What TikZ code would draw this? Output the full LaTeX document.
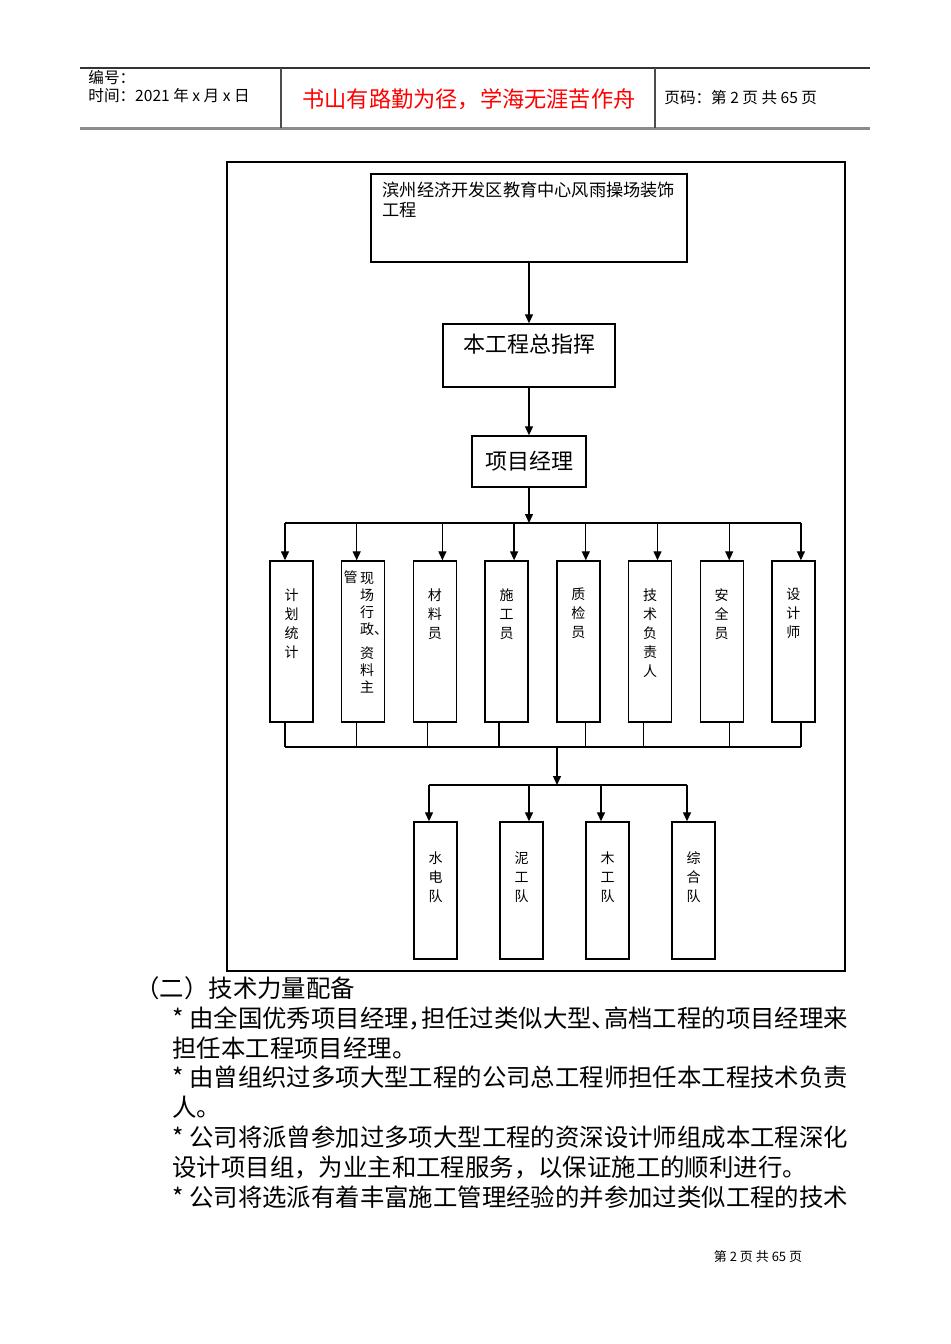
\documentclass[tikz,border=0pt]{standalone}
\usepackage{fontspec}
\setmainfont{Noto Sans CJK SC}
\usetikzlibrary{arrows.meta,positioning}

\begin{document}
\begin{tikzpicture}[x=0.5pt, y=-0.5pt, node distance=35.85pt,
  box/.style={rectangle, draw, line width=0.7pt, inner sep=0pt},
  post/.style={box, minimum width=21.5pt, minimum height=80.5pt},
  team/.style={box, minimum width=21.5pt, minimum height=68.5pt},
  vtext/.style={font=\fontsize{7}{9.5}\selectfont, align=center, inner sep=0pt, anchor=north},
  hdtext/.style={anchor=west, inner sep=0pt, font=\fontsize{7.8}{9}\selectfont},
  arrow/.style={-{Triangle[length=4.5pt, width=4pt]}, line width=0.65pt},
  link/.style={line width=0.65pt}]

  \useasboundingbox[fill=white] (0,0) rectangle (950,1344);

  % page header
  \draw[line width=0.6pt, black!80] (80,68) -- (870,68);
  \draw[line width=1.5pt, black!45] (80,128) -- (870,128);
  \draw[line width=0.6pt, black!70] (281,68) -- (281,128);
  \draw[line width=0.6pt, black!70] (655,68) -- (655,128);
  \node[hdtext] (hnum) at (88,78) {编号：};
  \node[hdtext] (hdate) at (88,96) {时间：2021 年 x 月 x 日};
  \node[font=\fontsize{11.1}{13}\selectfont, text=red] (motto) at (469,99) {书山有路勤为径，学海无涯苦作舟};
  \node[hdtext] (hpage) at (664,98) {页码：第 2 页 共 65 页};

  % organisation chart
  \node[box, line width=1pt, minimum width=309pt, minimum height=404.5pt] (frame) at (536,566.5) {};
  \node[box, minimum width=158pt, minimum height=44pt,
    label={[anchor=north west, align=left, inner sep=0pt, xshift=6pt, yshift=-4.2pt, font=\fontsize{8.6}{10}\selectfont]north west:{滨州经济开发区教育中心风雨操场装饰\\工程}}] (proj) at (529,218) {};
  \node[box, minimum width=86pt, minimum height=31.5pt,
    label={[anchor=north, inner sep=0pt, yshift=-5pt, font=\fontsize{11}{13}\selectfont]north:本工程总指挥}] (chief) at (529,355.5) {};
  \node[box, minimum width=57pt, minimum height=25.5pt, font=\fontsize{11}{13}\selectfont] (pm) at (529,461.5) {项目经理};

  \node[post, label={[vtext, yshift=-13.8pt]north:{计\\划\\统\\计}}] (plan) at (291.5,641.5) {};
  \node[post, right of=plan,
    label={[vtext, font=\fontsize{7}{8.5}\selectfont, xshift=2pt, yshift=-6pt]north:{现\\场\\行\\政\rlap{、}\\[3.5pt]资\\料\\主}},
    label={[vtext, xshift=-6.25pt, yshift=-5pt]north:管}] (admin) {};
  \node[post, right of=admin, label={[vtext, yshift=-13.8pt]north:{材\\料\\员}}] (mat) {};
  \node[post, right of=mat, label={[vtext, yshift=-13.8pt]north:{施\\工\\员}}] (cons) {};
  \node[post, right of=cons, label={[vtext, yshift=-13.8pt]north:{质\\检\\员}}] (qc) {};
  \node[post, right of=qc, label={[vtext, yshift=-13.8pt]north:{技\\术\\负\\责\\人}}] (tech) {};
  \node[post, right of=tech, label={[vtext, yshift=-13.8pt]north:{安\\全\\员}}] (safe) {};
  \node[post, right of=safe, label={[vtext, yshift=-13.8pt]north:{设\\计\\师}}] (dsgn) {};

  \node[team, label={[vtext, yshift=-15.1pt]north:{水\\电\\队}}] (water) at (435.5,890.5) {};
  \node[team, right of=water, node distance=43pt, label={[vtext, yshift=-15.1pt]north:{泥\\工\\队}}] (mud) {};
  \node[team, right of=mud, node distance=43pt, label={[vtext, yshift=-15.1pt]north:{木\\工\\队}}] (wood) {};
  \node[team, right of=wood, node distance=43pt, label={[vtext, yshift=-15.1pt]north:{综\\合\\队}}] (misc) {};

  \draw[arrow] (proj) -- (chief);
  \draw[arrow] (chief) -- (pm);

  % upper bus
  \coordinate (bustop) at (529,523);
  \coordinate (bustopw) at (285,523);
  \coordinate (bustope) at (801,523);
  \draw[arrow] (pm) -- (bustop);
  \draw[link] (bustopw) -- (bustope);
  \draw[arrow] ([xshift=-3.25pt]plan.north |- bustop) -- ([xshift=-3.25pt]plan.north);
  \draw[arrow] ([xshift=-3.25pt]admin.north |- bustop) -- ([xshift=-3.25pt]admin.north);
  \draw[arrow] ([xshift=3.75pt]mat.north |- bustop) -- ([xshift=3.75pt]mat.north);
  \draw[arrow] ([xshift=3.75pt]cons.north |- bustop) -- ([xshift=3.75pt]cons.north);
  \draw[arrow] ([xshift=3.75pt]qc.north |- bustop) -- ([xshift=3.75pt]qc.north);
  \draw[arrow] ([xshift=3.75pt]tech.north |- bustop) -- ([xshift=3.75pt]tech.north);
  \draw[arrow] ([xshift=3.75pt]safe.north |- bustop) -- ([xshift=3.75pt]safe.north);
  \draw[arrow] ([xshift=3.75pt]dsgn.north |- bustop) -- ([xshift=3.75pt]dsgn.north);

  % lower bus
  \coordinate (busbot) at (557,747);
  \coordinate (busbotw) at (285,747);
  \coordinate (busbote) at (801,747);
  \draw[link] ([xshift=-3.25pt]plan.south) -- ([xshift=-3.25pt]plan.south |- busbot);
  \draw[link] ([xshift=-3.25pt]admin.south) -- ([xshift=-3.25pt]admin.south |- busbot);
  \draw[link] ([xshift=-3.75pt]mat.south) -- ([xshift=-3.75pt]mat.south |- busbot);
  \draw[link] ([xshift=-3.75pt]cons.south) -- ([xshift=-3.75pt]cons.south |- busbot);
  \draw[link] ([xshift=3.75pt]qc.south) -- ([xshift=3.75pt]qc.south |- busbot);
  \draw[link] ([xshift=-3.25pt]tech.south) -- ([xshift=-3.25pt]tech.south |- busbot);
  \draw[link] ([xshift=3.75pt]safe.south) -- ([xshift=3.75pt]safe.south |- busbot);
  \draw[link] ([xshift=3.75pt]dsgn.south) -- ([xshift=3.75pt]dsgn.south |- busbot);
  \draw[link] (busbotw) -- (busbote);

  \coordinate (busteam) at (557,785);
  \coordinate (busteamw) at (429,785);
  \coordinate (busteame) at (687,785);
  \draw[arrow] (busbot) -- (busteam);
  \draw[link] (busteamw) -- (busteame);
  \draw[arrow] ([xshift=-3.25pt]water.north |- busteam) -- ([xshift=-3.25pt]water.north);
  \draw[arrow] ([xshift=3.75pt]mud.north |- busteam) -- ([xshift=3.75pt]mud.north);
  \draw[arrow] ([xshift=-3.25pt]wood.north |- busteam) -- ([xshift=-3.25pt]wood.north);
  \draw[arrow] ([xshift=-3.25pt]misc.north |- busteam) -- ([xshift=-3.25pt]misc.north);

  % text below the chart
  \node[anchor=north west, inner sep=0pt, font=\fontsize{12.2}{14.95}\selectfont] (head) at (135,976) {（二）技术力量配备};
  \node[anchor=north west, inner sep=0pt, align=left, font=\fontsize{12.2}{14.95}\selectfont] (body) at (172,1006) {* 由全国优秀项目经理\makebox[0.5em][l]{，}担任过类似大型\makebox[0.5em][l]{、}高档工程的项目经理来\\担任本工程项目经理。\\* 由曾组织过多项大型工程的公司总工程师担任本工程技术负责\\人。\\* 公司将派曾参加过多项大型工程的资深设计师组成本工程深化\\设计项目组，为业主和工程服务，以保证施工的顺利进行。\\* 公司将选派有着丰富施工管理经验的并参加过类似工程的技术};

  % page footer
  \node[font=\fontsize{6.5}{7.5}\selectfont] (foot) at (758,1257) {第 2 页 共 65 页};

\end{tikzpicture}
\end{document}
